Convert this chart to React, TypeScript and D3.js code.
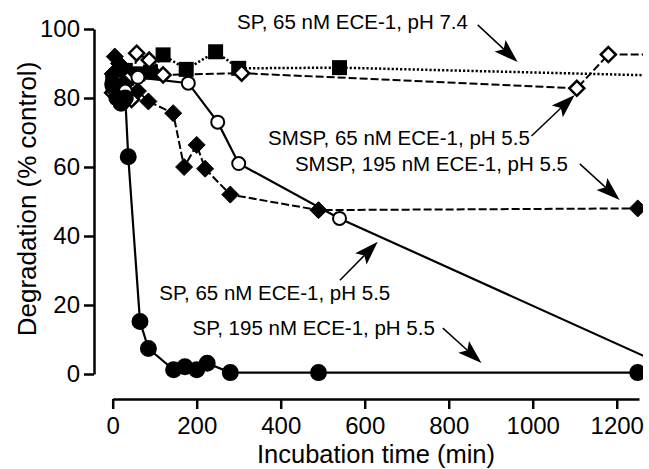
import React, { useEffect, useRef } from 'react';
import * as d3 from 'd3';

// SP, 65 nM ECE-1, pH 7.4 — filled squares, dotted line
const sp74Time = [0, 15, 30, 60, 90, 120, 175, 245, 300, 540, 1300];
const sp74Value = [85, 86, 88, 87, 87.5, 92.5, 88.3, 93.4, 88.6, 88.8, 86.5];

// SMSP, 65 nM ECE-1, pH 5.5 — open diamonds, dashed line
const smsp65Time = [0, 15, 35, 45, 57, 87, 120, 307, 1105, 1180, 1300];
const smsp65Value = [81.5, 84.3, 85.4, 79.6, 93, 91, 86.7, 87.2, 82.8, 92.6, 92.6];

// SMSP, 195 nM ECE-1, pH 5.5 — filled diamonds, dashed line
const smsp195Time = [0, 5, 15, 30, 60, 85, 144, 170, 200, 220, 280, 490, 1250];
const smsp195Value = [87, 92, 90, 84, 82, 79, 75.6, 60, 66.4, 59.5, 52, 47.5, 48];

// SP, 65 nM ECE-1, pH 5.5 — open circles, solid line
const sp65Time = [0, 15, 30, 60, 180, 250, 300, 540, 1350];
const sp65Value = [83, 80, 82, 86, 84.3, 73, 61, 45.1, 0.5];

// SP, 195 nM ECE-1, pH 5.5 — filled circles, solid line
const sp195Time = [0, 10, 20, 30, 37, 65, 85, 145, 172, 200, 225, 280, 490, 1250];
const sp195Value = [84, 80, 78.5, 80, 63, 15.2, 7.4, 1.2, 2.1, 1.2, 3.1, 0.4, 0.4, 0.4];

const xTicks = [0, 200, 400, 600, 800, 1000, 1200];
const yTicks = [0, 20, 40, 60, 80, 100];

const xTitle = 'Incubation time (min)';
const yTitle = 'Degradation (% control)';

// labels: text, anchor point (data units), arrow start -> arrow tip (data units)
const labelText = [
  'SP, 65 nM ECE-1, pH 7.4',
  'SMSP, 65 nM ECE-1, pH 5.5',
  'SMSP, 195 nM ECE-1, pH 5.5',
  'SP, 65 nM ECE-1, pH 5.5',
  'SP, 195 nM ECE-1, pH 5.5',
];
const labelAt = [[296, 100], [993, 66.4], [1084, 58.8], [111, 21.4], [190, 11.3]];
const labelAnchor = ['start', 'end', 'end', 'start', 'start'];
const arrowFrom = [[869, 101.2], [997, 69], [1112, 60.9], [541, 27.2], [786, 13.3]];
const arrowTo = [[964, 90.4], [1100, 80.9], [1207, 50.4], [631, 38.3], [878, 3.2]];

const W = 649;
const H = 469;
const FONT = '"Liberation Sans", Arial, Helvetica, sans-serif';

const App = () => {
  const svgRef = useRef(null);

  useEffect(() => {
    const svg = d3.select(svgRef.current);
    svg.selectAll('*').remove();

    const x = d3.scaleLinear().domain([0, 1253]).range([112.7, 639]);
    const y = d3.scaleLinear().domain([0, 100]).range([374, 29]);

    // plot area clip (the figure is cut at the right edge)
    svg.append('defs').append('clipPath').attr('id', 'plotclip')
      .append('rect').attr('x', 0).attr('y', 0).attr('width', 643).attr('height', H);

    // axes
    const xAxis = svg.append('g')
      .attr('transform', 'translate(0,399)')
      .call(d3.axisBottom(x).tickValues(xTicks).tickFormat(d3.format('d'))
        .tickSize(10).tickSizeOuter(0).tickPadding(8));
    const yAxis = svg.append('g')
      .attr('transform', 'translate(94,0)')
      .call(d3.axisLeft(y).tickValues(yTicks).tickFormat(d3.format('d'))
        .tickSize(10).tickSizeOuter(0).tickPadding(4));

    [xAxis, yAxis].forEach(g => {
      g.select('.domain').attr('stroke', '#000').attr('stroke-width', 2.5);
      g.selectAll('.tick line').attr('stroke', '#000').attr('stroke-width', 2.5);
      g.selectAll('.tick text')
        .attr('fill', '#000')
        .style('font-family', FONT)
        .style('font-size', '24px');
    });

    svg.append('text')
      .attr('x', 376)
      .attr('y', 463)
      .attr('text-anchor', 'middle')
      .style('font-family', FONT)
      .style('font-size', '25.5px')
      .text(xTitle);

    svg.append('text')
      .attr('transform', 'translate(36,199) rotate(-90)')
      .attr('text-anchor', 'middle')
      .style('font-family', FONT)
      .style('font-size', '26px')
      .text(yTitle);

    const plot = svg.append('g').attr('clip-path', 'url(#plotclip)');

    const series = [
      { t: sp74Time, v: sp74Value, dash: '2.2,2', width: 2.5, marker: 'square', fill: '#000' },
      { t: smsp65Time, v: smsp65Value, dash: '8,3', width: 2, marker: 'diamond', fill: '#fff' },
      { t: smsp195Time, v: smsp195Value, dash: '8,3', width: 2, marker: 'diamond', fill: '#000' },
      { t: sp65Time, v: sp65Value, dash: null, width: 2.2, marker: 'circle', fill: '#fff' },
      { t: sp195Time, v: sp195Value, dash: null, width: 2.2, marker: 'circle', fill: '#000' },
    ];

    const line = d3.line<number>()
      .x(d => d[0])
      .y(d => d[1]);

    series.forEach(s => {
      const pts = s.t.map((t, i) => [x(t), y(s.v[i])]);
      plot.append('path')
        .attr('d', line(pts))
        .attr('fill', 'none')
        .attr('stroke', '#000')
        .attr('stroke-width', s.width)
        .attr('stroke-dasharray', s.dash);
    });

    series.forEach(s => {
      const pts = s.t.map((t, i) => [x(t), y(s.v[i])]);
      pts.forEach(([px, py]) => {
        if (s.marker === 'square') {
          plot.append('rect')
            .attr('x', px - 7.5).attr('y', py - 7.5)
            .attr('width', 15).attr('height', 15)
            .attr('fill', s.fill);
        } else if (s.marker === 'circle') {
          plot.append('circle')
            .attr('cx', px).attr('cy', py)
            .attr('r', s.fill === '#000' ? 7.5 : 6.5)
            .attr('fill', s.fill)
            .attr('stroke', '#000')
            .attr('stroke-width', 2);
        } else {
          const r = s.fill === '#000' ? 8.5 : 7.5;
          plot.append('path')
            .attr('d', `M${px},${py - r}L${px + r},${py}L${px},${py + r}L${px - r},${py}Z`)
            .attr('fill', s.fill)
            .attr('stroke', '#000')
            .attr('stroke-width', s.fill === '#000' ? 1 : 2.5)
            .attr('stroke-linejoin', 'miter');
        }
      });
    });

    // annotations with arrows
    labelText.forEach((txt, i) => {
      svg.append('text')
        .attr('x', x(labelAt[i][0]))
        .attr('y', y(labelAt[i][1]))
        .attr('text-anchor', labelAnchor[i])
        .style('font-family', FONT)
        .style('font-size', '20.5px')
        .text(txt);

      const x0 = x(arrowFrom[i][0]);
      const y0 = y(arrowFrom[i][1]);
      const x1 = x(arrowTo[i][0]);
      const y1 = y(arrowTo[i][1]);
      const ang = Math.atan2(y1 - y0, x1 - x0);
      const L = 24;
      const hw = 8;
      const ux = Math.cos(ang);
      const uy = Math.sin(ang);
      const bx = x1 - ux * L;
      const by = y1 - uy * L;
      const nx = x1 - ux * (L - 5);
      const ny = y1 - uy * (L - 5);

      svg.append('line')
        .attr('x1', x0).attr('y1', y0)
        .attr('x2', nx).attr('y2', ny)
        .attr('stroke', '#000')
        .attr('stroke-width', 1.5);
      svg.append('path')
        .attr('d', `M${x1},${y1}L${bx - uy * hw},${by + ux * hw}L${nx},${ny}L${bx + uy * hw},${by - ux * hw}Z`)
        .attr('fill', '#000');
    });
  }, []);

  return (
    <svg
      ref={svgRef}
      width={W}
      height={H}
      style={{ position: 'absolute', left: 0, top: 0, background: '#fff' }}
    ></svg>
  );
};

export default App;
